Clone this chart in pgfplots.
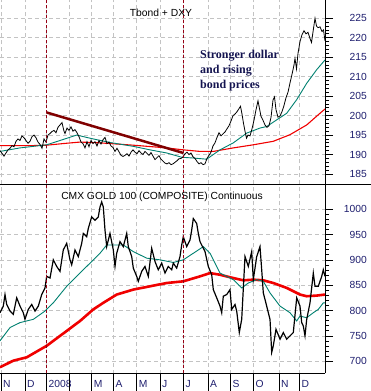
\documentclass[border=0pt]{standalone}
\usepackage{pgfplots}
\pgfplotsset{compat=1.18}
\usepackage{fontspec}
\setmainfont{Liberation Sans}
\newfontfamily\annfont{Liberation Serif}
\definecolor{tealma}{RGB}{0,128,112}
\definecolor{redma}{RGB}{240,0,0}
\definecolor{trend}{RGB}{128,0,0}
\definecolor{vdash}{RGB}{150,0,20}
\definecolor{lblue}{RGB}{30,30,110}
\definecolor{annc}{RGB}{20,20,80}
\definecolor{gridc}{RGB}{195,195,195}
\pgfplotsset{
  panel/.style={
    scale only axis, width=325pt, xmin=0, xmax=325,
    axis line style={draw=none},
    xtick={1,25,46.5,69,91.7,113.5,136.7,160,183.3,208,230.5,253.3,279,299.5},
    xmajorgrids, ymajorgrids,
    grid style={gridc, line width=0.6pt, dash pattern=on 4pt off 3pt},
    xtick style={draw=none},
    ytick pos=right, yticklabel pos=right, tick align=outside,
    major tick length=8pt, minor tick length=4pt, minor y tick num=4,
    ytick style={black, line width=0.8pt},
    minor y tick style={black, line width=0.8pt},
    /pgf/number format/assume math mode=true,
    /pgf/number format/1000 sep={},
    yticklabel style={font=\fontsize{10.3}{12}\selectfont, color=lblue, anchor=east, inner sep=0pt, xshift=34pt},
    xticklabel style={font=\fontsize{10.3}{12}\selectfont, color=lblue},
    clip=true,
  }
}
\begin{document}
\begin{tikzpicture}[x=1pt,y=1pt]
\useasboundingbox (0pt,0pt) rectangle (371pt,391pt);
% ---------------- top panel ----------------
\begin{axis}[panel, at={(0pt,206.5pt)}, anchor=south west, height=184.5pt,
  ymin=182.3, ymax=229.7, ytick={185,190,...,225}, xticklabels={}]
\addplot[redma, line width=1.1pt] coordinates {
(0,192.3) (33.3,192.3) (46.7,192.4) (66.7,192.9) (80,193.2) (100,193.0) (133.3,192.4)
(166.7,191.7) (183.3,191.2) (200,190.8) (213.3,190.8) (233.3,191.7) (253.3,192.5)
(273.3,193.4) (290,195.1) (306.7,197.6) (320,200.6) (325,201.7)};
\addplot[tealma, line width=0.9pt] coordinates {
(0,190.8) (20,191.7) (40,192.3) (46.7,192.5) (60,193.6) (76.7,195.0) (93.3,194.0)
(110,193.1) (133.3,192.1) (150,191.2) (166.7,190.4) (181.7,189.3) (193.3,189.1)
(206.7,188.8) (220,191.2) (233.3,193.0) (246.7,195.5) (260,196.8) (266.7,197.2)
(276.7,198.9) (286.7,200.6) (296.7,204.1) (306.7,208.3) (316.7,211.8) (325,214.3)};
\addplot[trend, line width=2.5pt] coordinates {(46.7,200.8) (183.3,190.4)};
\addplot[black, line width=0.8pt] coordinates {
(0,191.0) (2,190.3) (4,189.6) (6,190.4) (8,191.2) (10,191.6) (12,192.3) (14,192.0)
(16,193.4) (18,194.0) (20,193.6) (22,194.8) (24,194.3) (26,193.6) (28,192.9) (30,193.4)
(32,194.6) (34,195.0) (36,194.3) (38,193.2) (40,192.6) (42,191.6) (44,194.0) (46,193.2)
(48,195.0) (50,195.4) (52,195.9) (54,196.2) (56,195.6) (58,197.0) (60,197.6) (62,198.2)
(64,196.0) (65,195.4) (67,196.8) (69,196.2) (71,197.1) (73,196.0) (75,196.4) (77,195.6)
(79,194.6) (81,193.2) (83,192.8) (85,191.7) (87,193.3) (89,192.0) (91,193.6) (93,192.8)
(95,193.3) (97,192.2) (99,193.6) (101,192.7) (103,193.8) (105,194.4) (107,192.8)
(109,193.2) (111,192.2) (113,191.8) (115,190.8) (117,191.6) (119,190.7) (121,189.8)
(123,189.5) (125,189.8) (127,190.2) (129,189.6) (131,190.6) (133,191.2) (135,190.6)
(137,190.2) (139,191.0) (141,190.4) (143,190.0) (145,190.8) (147,190.3) (149,189.8)
(151,190.5) (153,189.6) (155,188.7) (157,189.2) (159,189.7) (161,188.8) (163,188.3)
(165,187.8) (167,187.6) (169,187.9) (171,187.4) (173,187.6) (175,188.0) (177,188.4)
(179,188.9) (181,189.0) (183,189.4) (185,190.2) (187,190.6) (189,190.0) (191,190.4)
(193,189.4) (195,189.0) (197,188.2) (199,187.6) (201,187.9) (203,187.4) (205,187.6)
(207,189.0) (209,189.8) (211,190.6) (213,192.2) (215,193.0) (217,194.4) (219,195.6)
(221,194.8) (223,195.3) (225,195.8) (227,196.6) (229,197.4) (231,198.6) (233,200.0)
(235,200.4) (237,201.0) (239,201.8) (240.5,202.4) (242,200.4) (243.5,198.0) (245,196.0)
(246.5,194.2) (248,195.0) (250,194.8) (252,196.6) (254,198.8) (256,201.5) (258,203.8)
(259.5,201.8) (261,199.8) (263,198.8) (265,197.6) (267,197.0) (269,197.4) (271,199.5)
(273,204.0) (274.5,204.8) (276,201.5) (278,199.6) (280,199.9) (282,201.0) (284,202.6)
(286,204.6) (288,206.0) (290,208.4) (292,210.6) (294,213.0) (295,214.7) (296.5,212.0)
(298,216.0) (300,219.0) (302,220.8) (304,221.8) (306,221.0) (308,221.4) (310,219.8)
(311.5,218.8) (313,221.5) (315,225.0) (316.5,223.0) (318,222.6) (320,222.8) (322,221.6)
(323.5,222.0) (325,219.2)};
\end{axis}
% ---------------- bottom panel ----------------
\begin{axis}[panel, at={(0pt,17.5pt)}, anchor=south west, height=189pt,
  ymin=675.9, ymax=1048.9, ytick={700,750,...,1000},
  xticklabels={N,D,2008,,M,A,M,J,J,A,S,O,N,D},
  xticklabel style={anchor=base west, inner sep=0pt, xshift=2pt, yshift=-6pt}]
\addplot[redma, line width=2.6pt] coordinates {
(0,688.2) (13.3,701.2) (26.7,707.8) (46.7,730.6) (66.7,759.9) (80,779.5) (93.3,802.4)
(103.3,815.4) (116.7,831.7) (133.3,841.5) (150,848.0) (166.7,854.5) (183.3,857.8)
(200,867.6) (210,874.1) (220,870.8) (233.3,864.3) (243.3,859.8) (253.3,861.1)
(263.3,859.8) (273.3,854.5) (286.7,844.8) (300,831.7) (306.7,828.4) (316.7,829.7) (325,831.7)};
\addplot[tealma, line width=0.9pt] coordinates {
(0,740.4) (10,766.5) (20,776.3) (33.3,782.8) (45,799.1) (53.3,815.4) (66.7,848.0)
(83.3,880.6) (100,913.2) (106.7,929.5) (123.3,929.5) (133.3,916.5) (146.7,903.5)
(160,900.2) (173.3,895.0) (183.3,900.2) (193.3,913.2) (203.3,926.3) (210,913.2)
(220,874.1) (233.3,861.1) (241.7,844.8) (248.3,854.5) (256.7,861.1) (263.3,857.8)
(270,835.0) (280,808.9) (290,795.8) (296.7,779.5) (300,789.3) (306.7,786.0)
(313.3,795.8) (318.3,802.4) (323.3,815.4) (325,815.4)};
\addplot[black, line width=1.2pt] coordinates {
(0,795.8) (3.3,808.9) (5,831.7) (6.7,812.1) (10,799.1) (13.3,792.6) (16.7,825.2)
(20,808.9) (23.3,795.8) (25,782.8) (28.3,802.4) (31.7,812.1) (35,799.1) (38.3,808.9)
(41.7,831.7) (45,844.8) (46.7,867.6) (50,864.3) (53.3,900.2) (56.7,887.2) (60,877.4)
(63.3,919.8) (66.7,932.8) (70,900.2) (71.7,890.4) (75,919.8) (78.3,906.7) (81.7,932.8)
(83.3,952.4) (86.7,945.9) (88.3,962.2) (91.7,985.0) (95,978.5) (98.3,985.0)
(100,1004.6) (101.7,1014.4) (103.3,1004.6) (105,958.9) (106.7,926.3) (110,952.4)
(113.3,919.8) (115,887.2) (116.7,913.2) (120,936.1) (123.3,926.3) (126.7,952.4)
(128.3,926.3) (131.7,906.7) (133.3,883.9) (136.7,867.6) (138.3,857.8) (141.7,877.4)
(145,887.2) (148.3,867.6) (151.7,923.0) (155,896.9) (158.3,880.6) (161.7,893.7)
(165,874.1) (168.3,887.2) (171.7,880.6) (173.3,893.7) (176.7,883.9) (180,906.7)
(181.7,929.5) (183.3,945.9) (186.7,926.3) (190,939.3) (191.7,958.9) (193.3,981.7)
(196.7,971.9) (198.3,952.4) (200,936.1) (201.7,929.5) (205,916.5) (208.3,887.2)
(211.7,870.8) (213.3,841.5) (216.7,825.2) (220,808.9) (221.7,795.8) (223.3,828.4)
(226.7,831.7) (230,841.5) (231.7,802.4) (235,812.1) (236.7,799.1) (239.3,756.7)
(241.7,782.8) (245,906.7) (248.3,887.2) (251.7,916.5) (253.3,861.1) (256.7,906.7)
(260,926.3) (261.7,880.6) (263.3,835.0) (266.7,808.9) (270,782.8) (271.7,717.6)
(273.3,730.6) (276,763.2) (280,743.6) (283.3,756.7) (286.7,743.6) (290,750.2)
(293.3,756.7) (296.7,825.2) (300,808.9) (301.7,776.3) (303.3,769.7) (305,750.2)
(306.7,782.8) (310,815.4) (313.3,874.1) (315,848.0) (318.3,848.0) (321.7,867.6)
(323.3,880.6) (325,867.6)};
\end{axis}
% frame lines, separators, dashed event lines
\draw[black, line width=0.9pt] (0pt,206.5pt) -- (371pt,206.5pt);
\draw[black, line width=0.9pt] (325pt,17.5pt) -- (325pt,391pt);
\draw[black, line width=0.9pt] (0pt,17.5pt) -- (325pt,17.5pt);
\foreach \x in {1,25,46.5,69,91.7,113.5,136.7,160,183.3,208,230.5,253.3,279,299.5}
  \draw[black, line width=0.8pt] (\x pt,17.5pt) -- (\x pt,0pt);
\draw[vdash, line width=0.8pt, dash pattern=on 3pt off 2pt] (46.5pt,17.5pt) -- (46.5pt,391pt);
\draw[vdash, line width=0.8pt, dash pattern=on 3pt off 2pt] (183.3pt,17.5pt) -- (183.3pt,391pt);
% titles and annotation
\node[anchor=base, inner sep=0pt, font=\fontsize{10.3}{12}\selectfont] at (161pt,374.5pt) {Tbond + DXY};
\node[anchor=base, inner sep=0pt, font=\fontsize{10.3}{12}\selectfont] at (162pt,191.7pt) {CMX GOLD 100 (COMPOSITE) Continuous};
\node[anchor=base west, inner sep=0pt, text=annc, font=\annfont\bfseries\fontsize{12}{15}\selectfont] at (200pt,332.7pt) {Stronger dollar};
\node[anchor=base west, inner sep=0pt, text=annc, font=\annfont\bfseries\fontsize{12}{15}\selectfont] at (200pt,317pt) {and rising};
\node[anchor=base west, inner sep=0pt, text=annc, font=\annfont\bfseries\fontsize{12}{15}\selectfont] at (200pt,302.7pt) {bond prices};
\end{tikzpicture}
\end{document}
